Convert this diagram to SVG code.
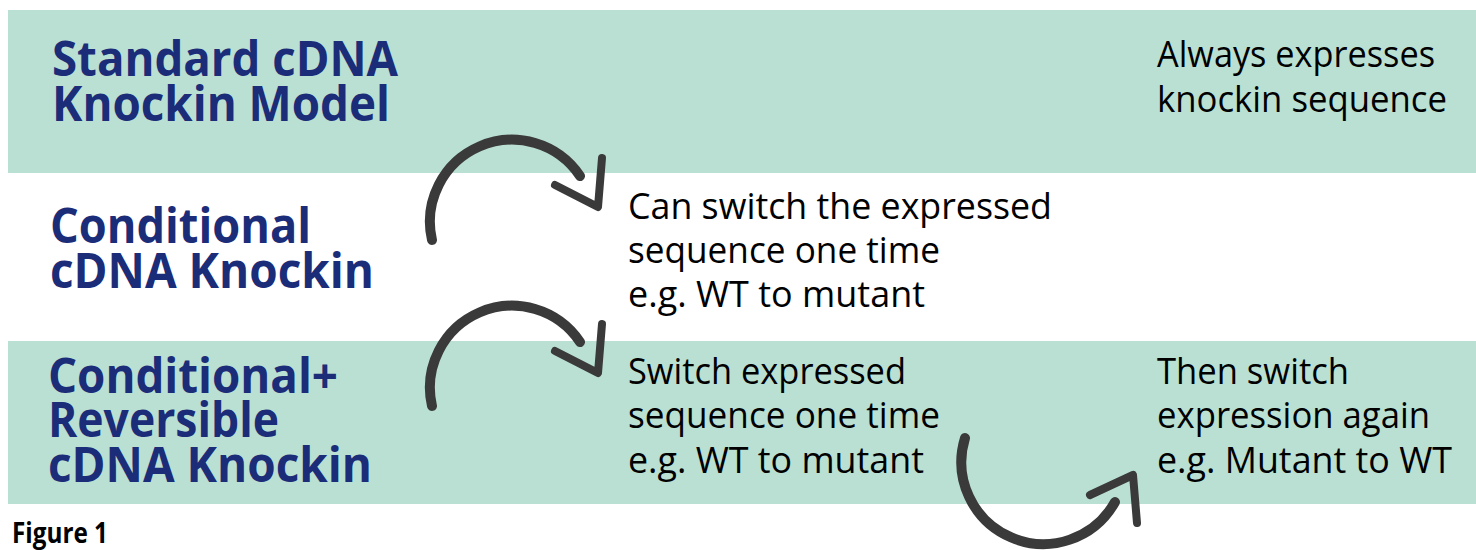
<svg xmlns="http://www.w3.org/2000/svg" width="1476" height="550" viewBox="0 0 1476 550">
<style>
.band{fill:#bae0d3}
.title{font-family:"Open Sans","Noto Sans","DejaVu Sans",sans-serif;font-weight:700;font-size:48px;fill:#1b2c78}
.body{font-family:"Open Sans","Noto Sans","DejaVu Sans",sans-serif;font-size:36px;fill:#000}
.fig{font-family:"Open Sans","Noto Sans","DejaVu Sans",sans-serif;font-weight:700;font-size:28px;fill:#000}
.arc{fill:none;stroke:#3a3a3a;stroke-width:10;stroke-linecap:round}
.head{fill:none;stroke:#3a3a3a;stroke-width:8;stroke-linecap:round;stroke-linejoin:round}
</style>
<rect width="1476" height="550" fill="#fff"/>
<g id="band-standard"><rect class="band" x="8" y="10" width="1468" height="163"/></g>
<g id="band-reversible"><rect class="band" x="8" y="341" width="1468" height="163"/></g>

<g id="node-standard">
<text class="title" x="52" y="76" textLength="346" lengthAdjust="spacingAndGlyphs">Standard cDNA</text>
<text class="title" x="52" y="121" textLength="338" lengthAdjust="spacingAndGlyphs">Knockin Model</text>
</g>
<g id="node-conditional">
<text class="title" x="50" y="243" textLength="261" lengthAdjust="spacingAndGlyphs">Conditional</text>
<text class="title" x="50" y="288" textLength="324" lengthAdjust="spacingAndGlyphs">cDNA Knockin</text>
</g>
<g id="node-reversible">
<text class="title" x="48" y="393" textLength="290" lengthAdjust="spacingAndGlyphs">Conditional+</text>
<text class="title" x="48" y="437" textLength="231" lengthAdjust="spacingAndGlyphs">Reversible</text>
<text class="title" x="48" y="482" textLength="324" lengthAdjust="spacingAndGlyphs">cDNA Knockin</text>
</g>
<g id="desc-always">
<text class="body" x="1157" y="67" textLength="278" lengthAdjust="spacingAndGlyphs">Always expresses</text>
<text class="body" x="1157" y="112" textLength="290" lengthAdjust="spacingAndGlyphs">knockin sequence</text>
</g>
<g id="desc-conditional">
<text class="body" x="628" y="219" textLength="424" lengthAdjust="spacingAndGlyphs">Can switch the expressed</text>
<text class="body" x="628" y="263" textLength="312" lengthAdjust="spacingAndGlyphs">sequence one time</text>
<text class="body" x="628" y="307" textLength="297" lengthAdjust="spacingAndGlyphs">e.g. WT to mutant</text>
</g>
<g id="desc-switch">
<text class="body" x="628" y="384" textLength="278" lengthAdjust="spacingAndGlyphs">Switch expressed</text>
<text class="body" x="628" y="428" textLength="312" lengthAdjust="spacingAndGlyphs">sequence one time</text>
<text class="body" x="628" y="473" textLength="296" lengthAdjust="spacingAndGlyphs">e.g. WT to mutant</text>
</g>
<g id="desc-again">
<text class="body" x="1157" y="384" textLength="192" lengthAdjust="spacingAndGlyphs">Then switch</text>
<text class="body" x="1157" y="428" textLength="273" lengthAdjust="spacingAndGlyphs">expression again</text>
<text class="body" x="1157" y="473" textLength="295" lengthAdjust="spacingAndGlyphs">e.g. Mutant to WT</text>
</g>

<g id="connectors">
<path class="arc" d="M432,240 A82,82 0 0 1 580,176"/>
<path class="head" d="M555,185 L598,207 L602,158"/>
<path class="arc" d="M432,406 A82,82 0 0 1 580,342"/>
<path class="head" d="M555,351 L598,373 L602,324"/>
<path class="arc" d="M965,438 A82,82 0 0 0 1115,502"/>
<path class="head" d="M1090,495 L1133,475 L1137,523"/>
</g>

<g id="caption">
<text class="fig" x="12" y="543" textLength="96" lengthAdjust="spacingAndGlyphs">Figure 1</text>
</g>
</svg>
